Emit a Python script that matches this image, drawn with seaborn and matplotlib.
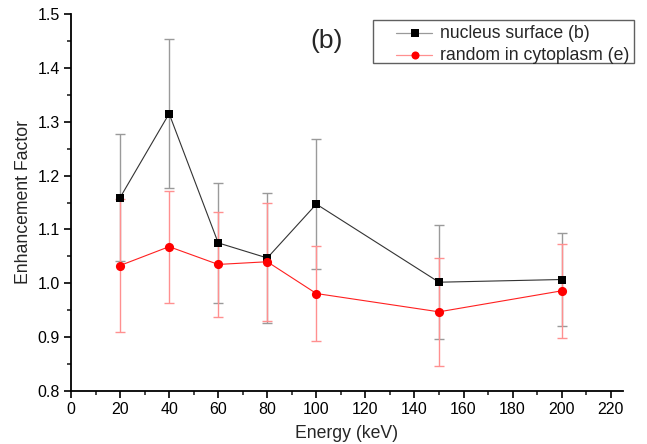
import matplotlib
matplotlib.use("Agg")
import matplotlib.pyplot as plt
from matplotlib.ticker import MultipleLocator, FormatStrFormatter
from matplotlib.lines import Line2D
from matplotlib.patches import Rectangle
import seaborn as sns
import pandas as pd

energy = [20, 40, 60, 80, 100, 150, 200]
nucleus = [1.159, 1.315, 1.075, 1.047, 1.147, 1.002, 1.007]
nucleus_err = [0.118, 0.138, 0.112, 0.121, 0.121, 0.106, 0.087]
cyto = [1.033, 1.068, 1.035, 1.040, 0.981, 0.947, 0.986]
cyto_err = [0.123, 0.104, 0.098, 0.110, 0.089, 0.100, 0.087]
series_names = ["nucleus surface (b)", "random in cytoplasm (e)"]

sns.set_theme(style="ticks")
plt.rcParams["font.family"] = ["Liberation Sans", "DejaVu Sans"]

df = pd.DataFrame({
    "Energy": energy * 2,
    "EF": nucleus + cyto,
    "err": nucleus_err + cyto_err,
    "series": [series_names[0]] * len(energy) + [series_names[1]] * len(energy),
})

fig = plt.figure(figsize=(6.47, 4.44), dpi=100)
W, H = 647, 444
ax = fig.add_axes([71 / W, 53 / H, (623 - 71) / W, (391 - 14) / H])

styles = {
    series_names[0]: dict(color="black", ecolor="#9a9a9a", lcolor="#333333", marker="s", ms=6),
    series_names[1]: dict(color="red", ecolor="#ff9090", lcolor="#ff2020", marker="o", ms=6.6),
}

# error bars first so markers sit above them
for name, st in styles.items():
    sub = df[df.series == name]
    ax.errorbar(sub.Energy, sub.EF, yerr=sub.err, fmt="none",
                ecolor=st["ecolor"], elinewidth=1, capsize=3.3, capthick=1, zorder=1)

palette = {k: v["color"] for k, v in styles.items()}
markers = {k: v["marker"] for k, v in styles.items()}
sns.lineplot(data=df, x="Energy", y="EF", hue="series", style="series",
             palette=palette, markers=markers, dashes=False,
             markeredgewidth=0, linewidth=0.8, ax=ax, legend=False, zorder=3)
for line, (name, st) in zip(ax.lines[-2:], styles.items()):
    line.set_markersize(st["ms"])
    line.set_color(st["lcolor"])
    line.set_markerfacecolor(st["color"])

ax.set_xlim(0, 225)
ax.set_ylim(0.8, 1.5)
ax.xaxis.set_major_locator(MultipleLocator(20))
ax.xaxis.set_minor_locator(MultipleLocator(10))
ax.yaxis.set_major_locator(MultipleLocator(0.1))
ax.yaxis.set_minor_locator(MultipleLocator(0.05))
ax.yaxis.set_major_formatter(FormatStrFormatter("%.1f"))
ax.tick_params(which="major", direction="out", length=5, width=1.2,
               labelsize=11.5, colors="black", pad=3)
ax.tick_params(which="minor", direction="out", length=3, width=1.2)
for s in ["top", "right"]:
    ax.spines[s].set_visible(False)
for s in ["left", "bottom"]:
    ax.spines[s].set_linewidth(1.3)
    ax.spines[s].set_color("black")

ax.set_xlabel("Energy (keV)", fontsize=12.7, labelpad=6)
ax.set_ylabel("Enhancement Factor", fontsize=12.7, labelpad=4)

fig.text(327 / W, 1 - 41 / H, "(b)", fontsize=19, ha="center", va="center")

# legend box
fig.patches.append(Rectangle((373 / W, 1 - 63 / H), (634 - 373) / W, (63 - 20) / H,
                             transform=fig.transFigure, fill=False,
                             edgecolor="#606060", linewidth=1.0))
for i, name in enumerate(series_names):
    st = styles[name]
    yy = 1 - (33 + 22 * i) / H
    fig.lines.append(Line2D([396 / W, 432 / W], [yy, yy], transform=fig.transFigure,
                            color=st["ecolor"], lw=0.9))
    fig.lines.append(Line2D([415 / W], [yy], transform=fig.transFigure,
                            marker=st["marker"], ms=st["ms"] - 0.8, mew=0,
                            mfc=st["color"], ls="none"))
    fig.text(440 / W, yy, name, fontsize=12.7, ha="left", va="center")

fig.savefig("out.png", dpi=100)
